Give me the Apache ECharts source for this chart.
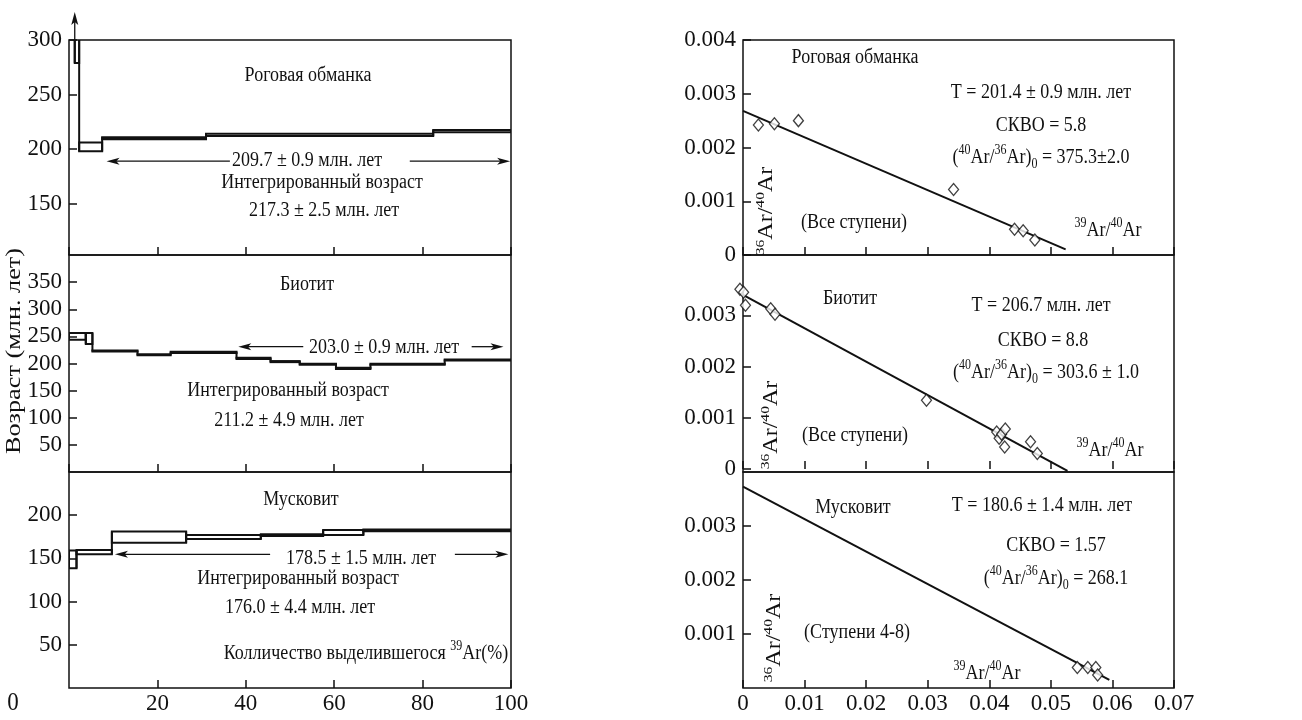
<!DOCTYPE html>
<html><head><meta charset="utf-8">
<script src="https://cdn.jsdelivr.net/npm/echarts@6/dist/echarts.min.js"></script>
<style>html,body{margin:0;padding:0;background:#fff}#c{width:1302px;height:720px}</style>
</head><body><div id="c"></div>
<script>
// ===== Left panels: age spectra. Step boundaries = cumulative 39Ar released (%), ages (Ma) =====
const hblX  = [0, 1.3, 2.3, 7.5, 31, 82.4, 100];
const hblLo = [320, 279, 198, 209, 212, 215.5];
const hblHi = [360, 330, 206, 211, 214, 217.5];

const bioX  = [0, 3.8, 5.3, 15.5, 23, 37.9, 45.6, 52.2, 60.4, 68.2, 85, 100];
const bioLo = [244, 236, 222, 215, 219.5, 208.5, 202.5, 197.5, 190, 197.5, 205.5];
const bioHi = [256, 256, 224, 217, 221.5, 210.5, 204.5, 199.5, 192, 199.5, 207.5];

const musX  = [0, 1.7, 9.7, 26.5, 43.4, 57.5, 66.6, 100];
const musLo = [138.5, 154.7, 168.2, 172.5, 176, 177, 181.5];
const musHi = [159, 159.7, 181, 177, 178, 183, 183.5];

// plateau arrows: [tail %, head %, age]
const hblPlateau = [[36.4, 8.5, 189], [77.1, 99.8, 189]];
const bioPlateau = [[53, 38.3, 231], [91.1, 98.3, 231]];
const musPlateau = [[45.5, 10.4, 154.7], [87.3, 99.4, 154.7]];
const hblOffscale = [[1.3, 300]];

// ===== Right panels: isochrons (x = 39Ar/40Ar, y = 36Ar/40Ar) =====
const hblIsoX = [0.0025, 0.0051, 0.0090, 0.0342, 0.0441, 0.0455, 0.0474];
const hblIsoY = [0.00242, 0.00244, 0.0025, 0.00122, 0.00048, 0.00045, 0.00028];
const hblLineX = [0, 0.0524];
const hblLineY = [0.00268, 0.000106];

const bioIsoX = [-0.0005, 0.0001, 0.0004, 0.0045, 0.0052, 0.0298, 0.0412, 0.0416, 0.0420, 0.0425, 0.0426, 0.0467, 0.0478];
const bioIsoY = [0.00351, 0.00345, 0.00320, 0.00313, 0.00302, 0.00134, 0.00072, 0.00060, 0.00068, 0.00043, 0.00078, 0.00053, 0.00030];
const bioLineX = [0, 0.0527];
const bioLineY = [0.0034, -0.00004];

const musIsoX = [0.0543, 0.0560, 0.0573, 0.0576];
const musIsoY = [0.00038, 0.00038, 0.00038, 0.00024];
const musLineX = [0, 0.0595];
const musLineY = [0.00373, 0.00015];

// tick labels
const ageTicksTop = [150, 200, 250, 300];
const ageTicksMid = [50, 100, 150, 200, 250, 300, 350];
const ageTicksBot = [50, 100, 150, 200];
const ratioTicksTop = [0, 0.001, 0.002, 0.003, 0.004];
const ratioTicksMid = [0, 0.001, 0.002, 0.003];
const ratioTicksBot = [0.001, 0.002, 0.003];

// ===== rendering =====
const SERIF = "'Liberation Serif','DejaVu Serif',serif";
const INK = '#111';
const chart = echarts.init(document.getElementById('c'));

function stepData(X, lo, hi) {
  return lo.map((v, i) => [X[i], X[i + 1], v, hi[i], i > 0 ? lo[i - 1] : null, i > 0 ? hi[i - 1] : null]);
}
function stepItem(params, api) {
  const x0 = api.value(0), x1 = api.value(1), lo = api.value(2), hi = api.value(3);
  const pl = api.value(4), ph = api.value(5);
  const a = api.coord([x0, hi]), b = api.coord([x1, lo]);
  const ch = [{type: 'rect', shape: {x: a[0], y: a[1], width: b[0] - a[0], height: b[1] - a[1]},
    style: {fill: 'none', stroke: INK, lineWidth: 2}}];
  if (isFinite(pl) && pl !== null) {
    const t = api.coord([x0, Math.max(hi, ph)]), d = api.coord([x0, Math.min(lo, pl)]);
    ch.push({type: 'line', shape: {x1: t[0], y1: t[1], x2: d[0], y2: d[1]}, style: {stroke: INK, lineWidth: 2}});
  }
  return {type: 'group', children: ch};
}
function arrowItem(params, api) {
  const t = api.coord([api.value(0), api.value(2)]), h = api.coord([api.value(1), api.value(2)]);
  const d = Math.sign(h[0] - t[0]), L = 13, W = 3.5;
  return {type: 'group', children: [
    {type: 'line', shape: {x1: t[0], y1: t[1], x2: h[0] - d * 6, y2: h[1]}, style: {stroke: INK, lineWidth: 1.3}},
    {type: 'polygon', shape: {points: [[h[0], h[1]], [h[0] - d * L, h[1] - W], [h[0] - d * L * 0.75, h[1]], [h[0] - d * L, h[1] + W]]}, style: {fill: INK}}
  ]};
}
function upArrowItem(params, api) {
  const p = api.coord([api.value(0), api.value(1)]);
  const top = p[1] - 28;
  return {type: 'group', children: [
    {type: 'line', shape: {x1: p[0], y1: p[1], x2: p[0], y2: top + 6}, style: {stroke: INK, lineWidth: 1.3}},
    {type: 'polygon', shape: {points: [[p[0], top], [p[0] - 3.5, top + 13], [p[0], top + 10], [p[0] + 3.5, top + 13]]}, style: {fill: INK}}
  ]};
}

const grids = [
  {left: 69, top: 40, width: 442, height: 215},
  {left: 69, top: 255, width: 442, height: 217},
  {left: 69, top: 472, width: 442, height: 216},
  {left: 743, top: 40, width: 431, height: 215},
  {left: 743, top: 255, width: 431, height: 217},
  {left: 743, top: 472, width: 431, height: 216}
].map(g => Object.assign(g, {show: true, borderColor: INK, borderWidth: 1.5, backgroundColor: 'transparent'}));

const labelBase = {color: INK, fontFamily: SERIF, fontSize: 23};
const tickBase = {inside: true, length: 8, lineStyle: {color: INK, width: 1.5}};

function xLeft(i) {
  return {gridIndex: i, type: 'value', min: 0, max: 100, interval: 20,
    axisLine: {show: false}, splitLine: {show: false}, axisTick: tickBase,
    axisLabel: Object.assign({show: i === 2, margin: 4, showMinLabel: false}, labelBase)};
}
function xRight(i) {
  return {gridIndex: i, type: 'value', min: 0, max: 0.07, interval: 0.01,
    axisLine: {show: false}, splitLine: {show: false}, axisTick: tickBase,
    axisLabel: Object.assign({show: i === 5, margin: 4, formatter: v => v === 0 ? '0' : String(+v.toFixed(2))}, labelBase)};
}
function yAx(i, min, max, ticks, fmt) {
  return {gridIndex: i, type: 'value', min: min, max: max,
    axisLine: {show: false}, splitLine: {show: false},
    axisTick: Object.assign({customValues: ticks}, tickBase),
    axisLabel: Object.assign({customValues: ticks, margin: 7, formatter: fmt}, labelBase)};
}
const rfmt = v => Math.abs(v) < 1e-9 ? '0' : (+v).toFixed(3);

const series = [
  {type: 'custom', xAxisIndex: 0, yAxisIndex: 0, clip: true, renderItem: stepItem, data: stepData(hblX, hblLo, hblHi), silent: true},
  {type: 'custom', xAxisIndex: 1, yAxisIndex: 1, clip: true, renderItem: stepItem, data: stepData(bioX, bioLo, bioHi), silent: true},
  {type: 'custom', xAxisIndex: 2, yAxisIndex: 2, clip: true, renderItem: stepItem, data: stepData(musX, musLo, musHi), silent: true},
  {type: 'custom', xAxisIndex: 0, yAxisIndex: 0, clip: false, renderItem: arrowItem, data: hblPlateau, silent: true},
  {type: 'custom', xAxisIndex: 1, yAxisIndex: 1, clip: false, renderItem: arrowItem, data: bioPlateau, silent: true},
  {type: 'custom', xAxisIndex: 2, yAxisIndex: 2, clip: false, renderItem: arrowItem, data: musPlateau, silent: true},
  {type: 'custom', xAxisIndex: 0, yAxisIndex: 0, clip: false, renderItem: upArrowItem, data: hblOffscale, silent: true}
];
function isoSeries(ax, lx, ly, px, py) {
  series.push({type: 'line', xAxisIndex: ax, yAxisIndex: ax, data: lx.map((x, i) => [x, ly[i]]),
    showSymbol: false, lineStyle: {color: INK, width: 2}, clip: false, silent: true, z: 2});
  series.push({type: 'scatter', xAxisIndex: ax, yAxisIndex: ax, data: px.map((x, i) => [x, py[i]]),
    symbol: 'diamond', symbolSize: [10, 12], clip: false, silent: true, z: 3,
    itemStyle: {color: '#fff', borderColor: INK, borderWidth: 1.3}});
}
isoSeries(3, hblLineX, hblLineY, hblIsoX, hblIsoY);
isoSeries(4, bioLineX, bioLineY, bioIsoX, bioIsoY);
isoSeries(5, musLineX, musLineY, musIsoX, musIsoY);

const RICH = {
  s: {fontSize: 12, fontFamily: SERIF, fill: INK, verticalAlign: 'top'},
  b: {fontSize: 12, fontFamily: SERIF, fill: INK, verticalAlign: 'bottom'},
  n: {fontSize: 18, fontFamily: SERIF, fill: INK, lineHeight: 24},
  R: {fontSize: 13, fontFamily: SERIF, fill: INK, verticalAlign: 'top'},
  N: {fontSize: 20, fontFamily: SERIF, fill: INK, lineHeight: 26}
};
// text helper; stretch = vertical stretch of the scanned figure's lettering
function T(x, y, text, size, rot, stretch) {
  const st = stretch || 1.2;
  const el = {type: 'text', x: x, y: y, rotation: rot || 0, silent: true,
    style: {text: text, fill: INK, font: size + 'px ' + SERIF, rich: RICH,
      textAlign: 'center', textVerticalAlign: 'middle', align: 'center', verticalAlign: 'middle'}};
  if (rot) { el.scaleX = st; } else { el.scaleY = st; }
  return el;
}
const F = 18;
const graphic = [
  T(308, 75, 'Роговая обманка', F),
  T(307, 160, '209.7 ± 0.9 млн. лет', F),
  T(322, 182, 'Интегрированный возраст', F),
  T(324, 210, '217.3 ± 2.5 млн. лет', F),
  T(307, 284, 'Биотит', F),
  T(384, 347, '203.0 ± 0.9 млн. лет', F),
  T(288, 390, 'Интегрированный возраст', F),
  T(289, 420, '211.2 ± 4.9 млн. лет', F),
  T(301, 499, 'Мусковит', F),
  T(361, 558, '178.5 ± 1.5 млн. лет', F),
  T(298, 578, 'Интегрированный возраст', F),
  T(300, 607, '176.0 ± 4.4 млн. лет', F),
  T(366, 653, '{n|Колличество выделившегося }{s|39}{n|Ar(%)}', F),
  T(13, 703, '0', 23, 0, 1.1),
  T(14, 351, 'Возраст (млн. лет)', 21, Math.PI / 2, 1.25),

  T(855, 57, 'Роговая обманка', F),
  T(1041, 92, 'T = 201.4 ± 0.9 млн. лет', F),
  T(1041, 125, 'СКВО = 5.8', F),
  T(1041, 157, '{n|(}{s|40}{n|Ar/}{s|36}{n|Ar)}{b|0}{n| = 375.3±2.0}', F),
  T(854, 222, '(Все ступени)', F),
  T(1108, 230, '{s|39}{n|Ar/}{s|40}{n|Ar}', F),
  T(767, 211, '{R|36}{N|Ar/}{R|40}{N|Ar}', 20, Math.PI / 2, 1.2),

  T(850, 298, 'Биотит', F),
  T(1041, 305, 'T = 206.7 млн. лет', F),
  T(1043, 340, 'СКВО = 8.8', F),
  T(1046, 372, '{n|(}{s|40}{n|Ar/}{s|36}{n|Ar)}{b|0}{n| = 303.6 ± 1.0}', F),
  T(855, 435, '(Все ступени)', F),
  T(1110, 450, '{s|39}{n|Ar/}{s|40}{n|Ar}', F),
  T(772, 425, '{R|36}{N|Ar/}{R|40}{N|Ar}', 20, Math.PI / 2, 1.2),

  T(853, 507, 'Мусковит', F),
  T(1042, 505, 'T = 180.6 ± 1.4 млн. лет', F),
  T(1056, 545, 'СКВО = 1.57', F),
  T(1056, 578, '{n|(}{s|40}{n|Ar/}{s|36}{n|Ar)}{b|0}{n| = 268.1}', F),
  T(857, 632, '(Ступени 4-8)', F),
  T(987, 673, '{s|39}{n|Ar/}{s|40}{n|Ar}', F),
  T(775, 638, '{R|36}{N|Ar/}{R|40}{N|Ar}', 20, Math.PI / 2, 1.2)
];

chart.setOption({
  animation: false,
  backgroundColor: '#fff',
  grid: grids,
  xAxis: [xLeft(0), xLeft(1), xLeft(2), xRight(3), xRight(4), xRight(5)],
  yAxis: [
    yAx(0, 103, 300, ageTicksTop),
    yAx(1, 0, 400, ageTicksMid),
    yAx(2, 0, 250, ageTicksBot),
    yAx(3, 0, 0.004, ratioTicksTop, rfmt),
    yAx(4, -0.00006, 0.00418, ratioTicksMid, rfmt),
    yAx(5, 0, 0.004, ratioTicksBot, rfmt)
  ],
  series: series,
  graphic: graphic
});
</script></body></html>
